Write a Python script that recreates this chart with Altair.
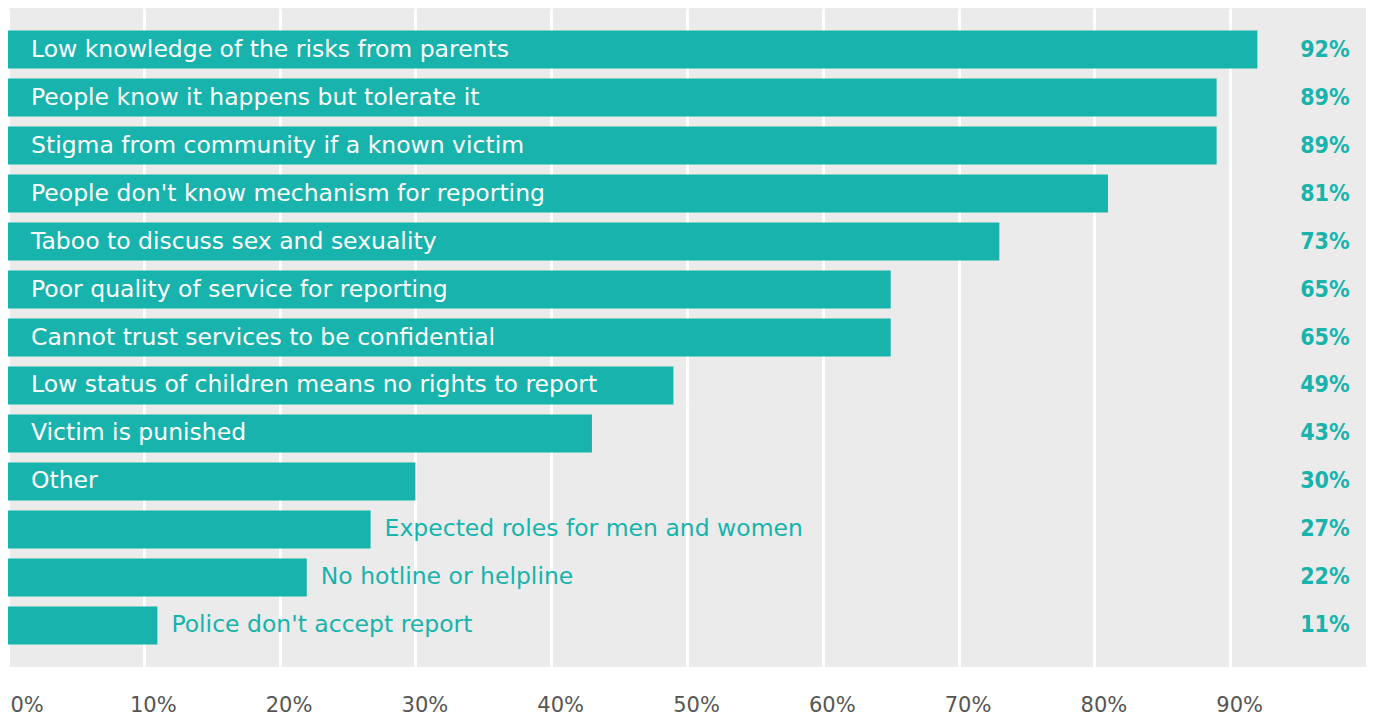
import altair as alt
import pandas as pd

categories = [
    "Low knowledge of the risks from parents",
    "People know it happens but tolerate it",
    "Stigma from community if a known victim",
    "People don't know mechanism for reporting",
    "Taboo to discuss sex and sexuality",
    "Poor quality of service for reporting",
    "Cannot trust services to be confidential",
    "Low status of children means no rights to report",
    "Victim is punished",
    "Other",
    "Expected roles for men and women",
    "No hotline or helpline",
    "Police don't accept report",
]
values = [92, 89, 89, 81, 73, 65, 65, 49, 43, 30, 26.7, 22, 11]
value_labels = ["92%", "89%", "89%", "81%", "73%", "65%", "65%", "49%", "43%", "30%", "27%", "22%", "11%"]
inside = [True] * 10 + [False] * 3
tick_values = [0, 10, 20, 30, 40, 50, 60, 70, 80, 90]

TEAL = "#17B3AC"
df = pd.DataFrame({"cat": categories, "v": values, "lab": value_labels, "inside": inside})

y_enc = alt.Y(
    "cat:N",
    sort=categories,
    axis=None,
    scale=alt.Scale(paddingInner=0.2083, paddingOuter=0.469),
)

base = alt.Chart(df)

bars = base.mark_bar(color=TEAL).encode(
    x=alt.X(
        "v:Q",
        scale=alt.Scale(domain=[0, 100], nice=False, zero=True),
        axis=alt.Axis(
            values=tick_values,
            labelExpr="datum.value + '%'",
            title=None,
            domain=False,
            ticks=False,
            grid=True,
            gridColor="white",
            gridWidth=3,
            labelFont="DejaVu Sans",
            labelFontSize=21,
            labelColor="#555555",
            labelBaseline="alphabetic",
            labelPadding=44,
            labelOffset=9,
            labelFlush=True,
            labelFlushOffset=7,
        ),
    ),
    y=y_enc,
)

inside_text = base.transform_filter("datum.inside").mark_text(
    align="left", baseline="middle", dx=23, color="white",
    font="DejaVu Sans", fontSize=23.5,
).encode(x=alt.datum(0), y=y_enc, text="cat:N")

outside_text = base.transform_filter("!datum.inside").mark_text(
    align="left", baseline="middle", dx=14, color=TEAL,
    font="DejaVu Sans", fontSize=23.5,
).encode(x="v:Q", y=y_enc, text="cat:N")

value_text = base.mark_text(
    align="right", baseline="middle", color=TEAL,
    font="DejaVu Sans Condensed",
    fontWeight="bold", fontSize=23,
).encode(x=alt.datum(98.8), y=y_enc, text="lab:N")

chart = (
    alt.layer(bars, inside_text, outside_text, value_text)
    .properties(
        width=1358,
        height=659,
        autosize=alt.AutoSizeParams(type="none"),
        padding={"left": 0, "top": 0, "right": 0, "bottom": 53},
    )
    .configure_view(fill="#EBEBEB", strokeWidth=0)
)

chart.save("out.html", embed_options={"renderer": "svg", "actions": False})
